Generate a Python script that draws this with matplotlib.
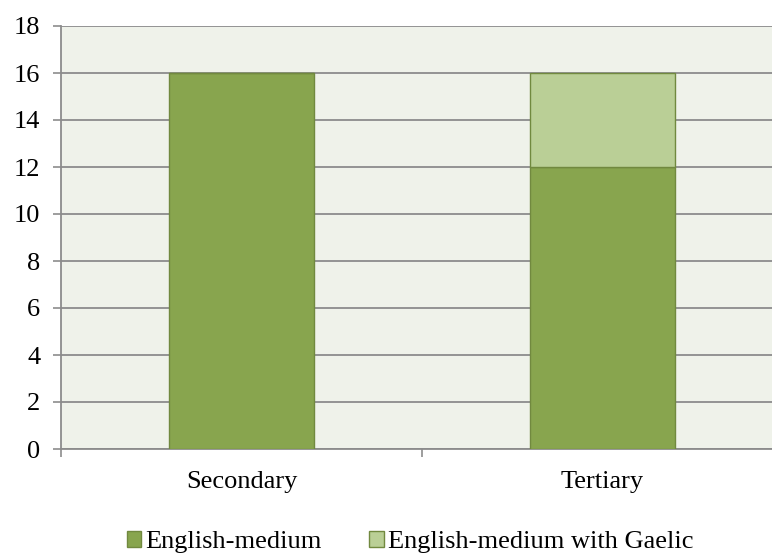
import numpy as np
import matplotlib.pyplot as plt

plt.rcParams['font.family'] = ['Liberation Serif', 'DejaVu Serif']

categories = ["Secondary", "Tertiary"]
english_medium = [16, 12]
english_gaelic = [0, 4]
y_ticks = [0, 2, 4, 6, 8, 10, 12, 14, 16, 18]

dark = "#88a54e"
light = "#bacf96"
edge = "#71893f"
grid = "#8c8c8c"
fs = 19

fig = plt.figure(figsize=(7.72, 5.56), dpi=100)
ax = fig.add_axes([61 / 772, 1 - 449 / 556, 722 / 772, 423 / 556])
ax.set_facecolor("#eff2ea")

x = np.arange(len(categories))
ax.bar(x, english_medium, width=0.4, color=dark, edgecolor=edge, linewidth=1,
       label="English-medium", zorder=3)
ax.bar(x, english_gaelic, width=0.4, bottom=english_medium, color=light,
       edgecolor=edge, linewidth=1, label="English-medium with Gaelic", zorder=3)

ax.set_xlim(-0.5, 1.5)
ax.set_ylim(0, 18)
ax.set_yticks(y_ticks)
ax.set_xticks(x)
ax.set_xticklabels(categories)
ax.set_xticks([-0.5, 0.5, 1.5], minor=True)
ax.tick_params(axis="x", which="major", length=0, pad=16, labelsize=fs)
ax.tick_params(axis="x", which="minor", length=6, color=grid, width=1.2)
ax.tick_params(axis="y", length=6, color=grid, width=1.2, labelsize=fs, pad=9)

ax.yaxis.grid(True, color=grid, linewidth=1.3, zorder=1)
for s in ["top", "right"]:
    ax.spines[s].set_visible(False)
for s in ["left", "bottom"]:
    ax.spines[s].set_color(grid)
    ax.spines[s].set_linewidth(1.3)

fig.legend(loc="center", bbox_to_anchor=(410 / 772, 1 - 542 / 556), ncol=2, frameon=False,
           fontsize=fs, handlelength=0.55, handleheight=0.55, handletextpad=0.15,
           columnspacing=1.8, borderpad=0)

fig.savefig("out.png", dpi=100)
